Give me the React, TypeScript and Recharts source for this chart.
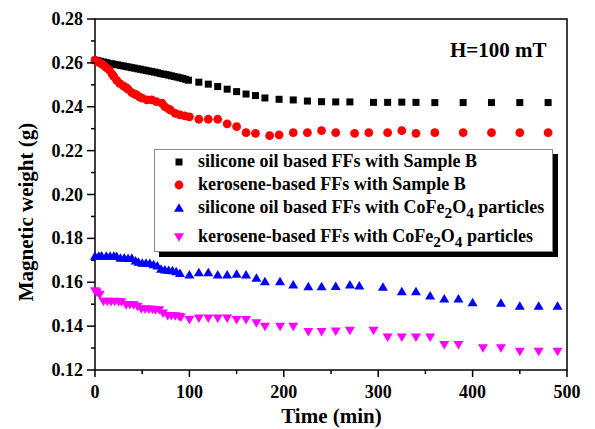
import React from "react";
import { ScatterChart, Scatter, XAxis, YAxis, ReferenceArea } from "recharts";

const FONT = '"Liberation Serif", "Times New Roman", serif';

// silicone oil based FFs with Sample B
const siliconeBTime = [0, 3, 6, 9, 12, 15, 18, 21, 24, 27, 30, 33, 36, 39, 42, 45, 48, 51, 54, 57, 60, 63, 66, 69, 72, 75, 78, 81, 84, 87, 90, 93, 96, 99, 110, 120, 130, 140, 150, 160, 170, 180, 195, 210, 225, 240, 255, 270, 295, 310, 325, 340, 360, 390, 420, 450, 480];
const siliconeBWeight = [0.2612, 0.261, 0.2607, 0.2604, 0.2601, 0.2598, 0.2596, 0.2593, 0.2591, 0.2588, 0.2586, 0.2583, 0.2581, 0.2578, 0.2576, 0.2573, 0.2571, 0.2568, 0.2566, 0.2563, 0.256, 0.2558, 0.2555, 0.2552, 0.2549, 0.2547, 0.2544, 0.2541, 0.2538, 0.2535, 0.2532, 0.2529, 0.2525, 0.2521, 0.2512, 0.2503, 0.2492, 0.248, 0.2469, 0.2458, 0.2451, 0.244, 0.2434, 0.2431, 0.2426, 0.2423, 0.2422, 0.2422, 0.242, 0.242, 0.2421, 0.242, 0.2419, 0.2419, 0.2419, 0.2419, 0.2419];

// kerosene-based FFs with Sample B
const keroseneBTime = [0, 3, 6, 9, 12, 15, 18, 20, 23, 26, 30, 33, 35, 39, 42, 44, 47, 50, 55, 60, 65, 71, 74, 78, 80, 85, 90, 95, 100, 110, 120, 130, 140, 150, 160, 170, 185, 195, 210, 225, 240, 255, 275, 290, 310, 325, 340, 360, 390, 420, 450, 480];
const keroseneBWeight = [0.2612, 0.2605, 0.2598, 0.259, 0.2578, 0.2568, 0.255, 0.2537, 0.252, 0.2507, 0.2495, 0.2487, 0.248, 0.2464, 0.2458, 0.2454, 0.2445, 0.2439, 0.2431, 0.2431, 0.2423, 0.2416, 0.24, 0.239, 0.2385, 0.237, 0.2363, 0.2358, 0.2354, 0.2343, 0.2343, 0.2343, 0.2322, 0.2309, 0.2282, 0.2279, 0.2268, 0.2272, 0.2282, 0.2282, 0.2291, 0.2282, 0.2279, 0.2282, 0.2282, 0.2291, 0.2279, 0.2282, 0.2282, 0.2282, 0.2282, 0.2282];

// silicone oil based FFs with CoFe2O4 particles
const siliconeCoTime = [0, 4, 7, 12, 16, 20, 23, 27, 31, 35, 39, 43, 46, 50, 54, 58, 62, 66, 70, 74, 78, 82, 86, 90, 100, 110, 120, 130, 140, 150, 160, 171, 180, 196, 210, 226, 240, 255, 270, 280, 305, 325, 340, 355, 370, 385, 400, 430, 450, 470, 490];
const siliconeCoWeight = [0.172, 0.172, 0.1721, 0.172, 0.1719, 0.172, 0.1718, 0.171, 0.1711, 0.1709, 0.171, 0.1698, 0.1692, 0.1687, 0.1688, 0.1686, 0.1681, 0.1675, 0.166, 0.1657, 0.1655, 0.1653, 0.1649, 0.1641, 0.1634, 0.1644, 0.1644, 0.1634, 0.1634, 0.1637, 0.1634, 0.1619, 0.1603, 0.1603, 0.1588, 0.158, 0.158, 0.1581, 0.1588, 0.1584, 0.1578, 0.1558, 0.1558, 0.1538, 0.1524, 0.1524, 0.1507, 0.1505, 0.1492, 0.1492, 0.1492];

// kerosene-based FFs with CoFe2O4 particles
const keroseneCoTime = [0, 2, 5, 9, 13, 17, 21, 25, 28, 33, 37, 41, 45, 49, 53, 57, 61, 64, 68, 72, 77, 81, 85, 89, 91, 100, 110, 120, 130, 140, 150, 160, 171, 180, 196, 210, 226, 240, 255, 270, 295, 310, 325, 340, 355, 370, 385, 411, 430, 450, 470, 490];
const keroseneCoWeight = [0.156, 0.1555, 0.1543, 0.1512, 0.1512, 0.1511, 0.1512, 0.1511, 0.151, 0.1497, 0.1498, 0.1496, 0.149, 0.1478, 0.1477, 0.1477, 0.1476, 0.1474, 0.1474, 0.1459, 0.1447, 0.1447, 0.1446, 0.1444, 0.1441, 0.1429, 0.1436, 0.1436, 0.1436, 0.1436, 0.1429, 0.1429, 0.1414, 0.1398, 0.1398, 0.1398, 0.1375, 0.1375, 0.1377, 0.138, 0.138, 0.135, 0.135, 0.135, 0.135, 0.1315, 0.1315, 0.13, 0.13, 0.1284, 0.1284, 0.1284];

const xTicks = [0, 50, 100, 150, 200, 250, 300, 350, 400, 450, 500];
const yTicks = [0.12, 0.13, 0.14, 0.15, 0.16, 0.17, 0.18, 0.19, 0.2, 0.21, 0.22, 0.23, 0.24, 0.25, 0.26, 0.27, 0.28];

const toPoints = (t: number[], w: number[]) => t.map((x, i) => ({ x, y: w[i] }));

const SquareDot = (color: string) => (p: any) => (
  <rect x={p.cx - 3.5} y={p.cy - 3.5} width={7} height={7} fill={color} />
);
const CircleDot = (color: string) => (p: any) => <circle cx={p.cx} cy={p.cy} r={4.4} fill={color} />;
const UpTri = (color: string) => (p: any) => (
  <polygon points={`${p.cx - 5},${p.cy + 3.7} ${p.cx + 5},${p.cy + 3.7} ${p.cx},${p.cy - 4.8}`} fill={color} />
);
const DownTri = (color: string) => (p: any) => (
  <polygon points={`${p.cx - 5},${p.cy - 3.7} ${p.cx + 5},${p.cy - 3.7} ${p.cx},${p.cy + 4.8}`} fill={color} />
);

const XTick = (p: any) => {
  const v = p.payload.value;
  const major = v % 100 === 0;
  return (
    <g>
      <line x1={p.x} x2={p.x} y1={p.y} y2={p.y + (major ? 7 : 4)} stroke="#000" strokeWidth={1.5} />
      {major && (
        <text x={p.x} y={p.y + 28} textAnchor="middle" fontFamily={FONT} fontWeight="bold" fontSize={18} fill="#000">
          {v}
        </text>
      )}
    </g>
  );
};

const YTick = (p: any) => {
  const v = p.payload.value;
  const major = Math.round(v * 100) % 2 === 0;
  return (
    <g>
      <line x1={p.x - (major ? 8 : 4)} x2={p.x} y1={p.y} y2={p.y} stroke="#000" strokeWidth={1.5} />
      {major && (
        <text x={p.x - 12} y={p.y + 6} textAnchor="end" fontFamily={FONT} fontWeight="bold" fontSize={18} fill="#000">
          {v.toFixed(2)}
        </text>
      )}
    </g>
  );
};

const Marker = ({ kind, color }: { kind: string; color: string }) => (
  <svg width={12} height={12} style={{ position: "absolute", left: 18, top: 5 }}>
    {kind === "square" && <rect x={2.5} y={2.5} width={7} height={7} fill={color} />}
    {kind === "circle" && <circle cx={6} cy={6} r={4.4} fill={color} />}
    {kind === "up" && <polygon points="1,9.7 11,9.7 6,1.2" fill={color} />}
    {kind === "down" && <polygon points="1,2.3 11,2.3 6,10.8" fill={color} />}
  </svg>
);

const Sub = ({ children }: { children: React.ReactNode }) => (
  <span style={{ fontSize: "0.85em", position: "relative", top: "0.3em" }}>{children}</span>
);

const LegendRow = ({ top, kind, color, children }: any) => (
  <div style={{ position: "absolute", left: 0, top, height: 20, width: "100%" }}>
    <Marker kind={kind} color={color} />
    <div style={{ position: "absolute", left: 43, top: 0, lineHeight: "20px", whiteSpace: "nowrap" }}>{children}</div>
  </div>
);

export default function App() {
  return (
    <div style={{ position: "absolute", left: 0, top: 0, width: 595, height: 429, background: "#fff", fontFamily: FONT }}>
      <ScatterChart width={595} height={429} margin={{ top: 19, right: 28, bottom: 0, left: 0 }}>
        <XAxis
          type="number"
          dataKey="x"
          domain={[0, 500]}
          ticks={xTicks}
          interval={0}
          height={59}
          axisLine={false}
          tickLine={false}
          tickSize={0}
          tickMargin={0}
          tick={<XTick />}
          label={() => (
            <text x={331.5} y={423} textAnchor="middle" fontFamily={FONT} fontWeight="bold" fontSize={21} fill="#000">
              Time (min)
            </text>
          )}
        />
        <YAxis
          type="number"
          dataKey="y"
          domain={[0.12, 0.28]}
          ticks={yTicks}
          interval={0}
          width={95}
          axisLine={false}
          tickLine={false}
          tickSize={0}
          tickMargin={0}
          tick={<YTick />}
          label={() => (
            <text
              x={33}
              y={212}
              transform="rotate(-90 33 212)"
              textAnchor="middle"
              fontFamily={FONT}
              fontWeight="bold"
              fontSize={21}
              fill="#000"
            >
              Magnetic weight (g)
            </text>
          )}
        />
        <ReferenceArea x1={0} x2={500} y1={0.12} y2={0.28} fill="none" stroke="#000" strokeWidth={1.5} />
        <Scatter data={toPoints(siliconeBTime, siliconeBWeight)} shape={SquareDot("#000000")} isAnimationActive={false} />
        <Scatter data={toPoints(keroseneBTime, keroseneBWeight)} shape={CircleDot("#ff0000")} isAnimationActive={false} />
        <Scatter data={toPoints(siliconeCoTime, siliconeCoWeight)} shape={UpTri("#0000ff")} isAnimationActive={false} />
        <Scatter data={toPoints(keroseneCoTime, keroseneCoWeight)} shape={DownTri("#ff00ff")} isAnimationActive={false} />
      </ScatterChart>

      <div style={{ position: "absolute", left: 450, top: 40, fontWeight: "bold", fontSize: 21, lineHeight: "21px", whiteSpace: "nowrap" }}>
        H=100 mT
      </div>

      <div
        style={{
          position: "absolute",
          left: 154,
          top: 149,
          width: 399,
          height: 103,
          boxSizing: "border-box",
          border: "1px solid #888",
          background: "#fff",
          boxShadow: "5px 5px 0 #000",
          fontWeight: "bold",
          fontSize: 18,
          color: "#000",
        }}
      >
        <LegendRow top={1} kind="square" color="#000000">silicone oil based FFs with Sample B</LegendRow>
        <LegendRow top={24} kind="circle" color="#ff0000">kerosene-based FFs with Sample B</LegendRow>
        <LegendRow top={47} kind="up" color="#0000ff">
          silicone oil based FFs with CoFe<Sub>2</Sub>O<Sub>4</Sub> particles
        </LegendRow>
        <LegendRow top={76} kind="down" color="#ff00ff">
          kerosene-based FFs with CoFe<Sub>2</Sub>O<Sub>4</Sub> particles
        </LegendRow>
      </div>
    </div>
  );
}
